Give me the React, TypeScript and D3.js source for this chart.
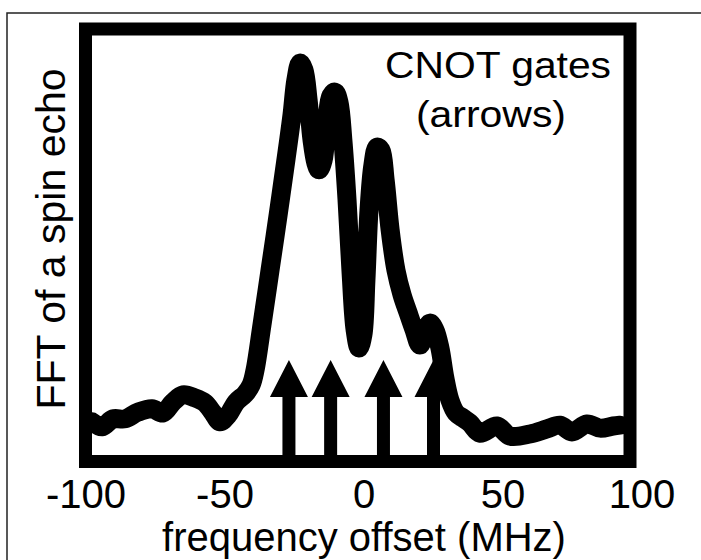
import React from 'react';
import * as d3 from 'd3';

// frequency offset (MHz) of each sample of the spin-echo FFT
const freqMHz = [
  -97.8, -94.2, -90.3, -86.0, -81.3, -76.3, -72.3, -68.7, -65.1, -60.8,
  -57.2, -54.3, -51.8, -48.9, -46.0, -42.8, -40.6, -39.2, -36.7, -33.8,
  -30.9, -28.1, -25.9, -24.5, -23.0, -21.6, -20.1, -18.7, -17.3, -16.2,
  -14.7, -13.3, -11.9, -10.4, -9.0, -7.6, -6.1, -4.7, -3.2, -1.8,
  -0.4, 0.7, 1.8, 3.2, 4.7, 6.1, 7.6, 9.4, 11.5, 13.7,
  15.8, 18.0, 20.1, 21.9, 23.7, 25.5, 27.3, 29.1, 30.9, 33.1,
  35.6, 38.1, 41.7, 47.8, 52.5, 59.7, 65.8, 70.5, 74.8, 80.2,
  84.9, 89.6, 92.1,
];

// FFT amplitude (arbitrary units)
const fftSignal = [
  7.9, 6.7, 8.6, 8.6, 10.2, 11.0, 10.0, 12.6, 14.3, 13.6,
  12.4, 10.0, 7.9, 9.5, 12.6, 14.5, 16.7, 20.2, 31.0, 44.0,
  57.1, 70.2, 81.0, 89.3, 93.3, 91.7, 84.5, 75.0, 69.5, 67.9,
  70.2, 79.8, 85.5, 86.4, 84.0, 75.0, 60.7, 44.0, 29.8, 25.5,
  28.6, 41.7, 58.3, 69.0, 73.3, 72.6, 65.5, 53.6, 44.0, 38.1,
  34.0, 29.8, 26.2, 29.0, 31.4, 29.8, 25.5, 18.3, 13.1, 10.0,
  8.8, 7.6, 5.2, 6.9, 4.5, 5.0, 6.2, 7.1, 5.5, 7.4,
  6.4, 6.9, 7.1,
];

// CNOT gate frequencies (arrows)
const gateFreqs = [-27, -12, 7, 25];
const arrowTip = 22.6;
const arrowHeadBase = 13.8;

const tickValues = [-100, -50, 0, 50, 100];
const tickLabels = ['-100', '-50', '0', '50', '100'];

const FONT = "'Liberation Sans', Arial, Helvetica, sans-serif";

export default function App() {
  const x = d3.scaleLinear().domain([-100, 100]).range([86, 642]);
  const y = d3.scaleLinear().domain([0, 100]).range([455, 35]);

  const line = d3
    .line<number>()
    .x((_, i) => x(freqMHz[i]))
    .y((d) => y(d))
    .curve(d3.curveCatmullRom.alpha(0.5));

  const headHalf = 19;
  const shaftHalf = 6.5;

  const arrowPath = (f: number) => {
    const cx = x(f);
    const tip = y(arrowTip);
    const base = y(arrowHeadBase);
    const bottom = y(0);
    const p = d3.path();
    p.moveTo(cx, tip);
    p.lineTo(cx + headHalf, base);
    p.lineTo(cx + shaftHalf, base);
    p.lineTo(cx + shaftHalf, bottom);
    p.lineTo(cx - shaftHalf, bottom);
    p.lineTo(cx - shaftHalf, base);
    p.lineTo(cx - headHalf, base);
    p.closePath();
    return p.toString();
  };

  return (
    <svg
      width={701}
      height={560}
      style={{ position: 'absolute', left: 0, top: 0, background: '#fff' }}
      fontFamily={FONT}
    >
      <rect x={0} y={0} width={701} height={560} fill="#fff" />
      {/* thin outer border (cropped on right and bottom) */}
      <rect x={7} y={13} width={720} height={580} fill="none" stroke="#222" strokeWidth={1.5} />

      {/* arrows */}
      {gateFreqs.map((f, i) => (
        <path key={i} d={arrowPath(f)} fill="#000" />
      ))}

      {/* data curve */}
      <path
        d={line(fftSignal) || ''}
        fill="none"
        stroke="#000"
        strokeWidth={19}
        strokeLinejoin="round"
        strokeLinecap="round"
      />

      {/* thick frame */}
      <rect x={85.5} y={29} width={544.5} height={432.5} fill="none" stroke="#000" strokeWidth={13} />

      {/* tick labels */}
      {tickValues.map((t, i) => (
        <text key={t} x={x(t)} y={508} fontSize={40} textAnchor="middle" fill="#000">
          {tickLabels[i]}
        </text>
      ))}

      {/* axis labels */}
      <text x={364} y={551} fontSize={40} textAnchor="middle" fill="#000">
        frequency offset (MHz)
      </text>
      <text
        transform="translate(65,239) rotate(-90)"
        fontSize={41}
        textAnchor="middle"
        fill="#000"
      >
        FFT of a spin echo
      </text>

      {/* annotation */}
      <text x={385} y={78} fontSize={36} fill="#000" textLength={226} lengthAdjust="spacingAndGlyphs">
        CNOT gates
      </text>
      <text x={416} y={127} fontSize={36} fill="#000" textLength={150} lengthAdjust="spacingAndGlyphs">
        (arrows)
      </text>
    </svg>
  );
}
